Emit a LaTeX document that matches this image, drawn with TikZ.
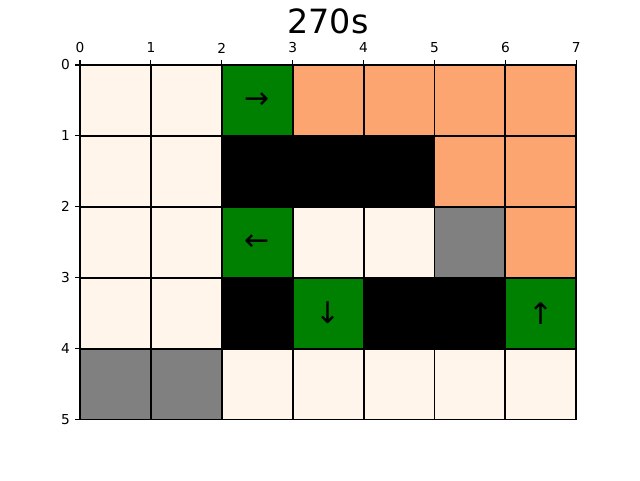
\documentclass[tikz,border=0pt]{standalone}
\usepackage{fontspec}
\setmainfont{DejaVu Sans}
\usepackage{xcolor}
\usetikzlibrary{positioning}
\definecolor{freeclr}{RGB}{255,245,235}
\definecolor{visitclr}{RGB}{252,165,112}
\definecolor{agentclr}{RGB}{0,128,0}
\definecolor{wallclr}{RGB}{0,0,0}
\definecolor{holeclr}{RGB}{128,128,128}
\tikzset{
  cell/.style={rectangle,draw=black,line width=1.1pt,
               minimum size=1.418cm,inner sep=0pt,outer sep=0pt},
  dir/.style={font=\fontsize{17}{17}\selectfont,inner sep=0pt},
  ticklbl/.style={font=\fontsize{7.8}{8}\selectfont,inner sep=0pt},
}
\begin{document}
\begin{tikzpicture}
\useasboundingbox (0,0) rectangle (12.8,9.6);
\node[font=\fontsize{19}{19}\selectfont] (title) at (6.56,9.18) {270s};
\begin{scope}[shift={(1.6,8.3)},x=1.418cm,y=-1.418cm]
% cells, row by row
\foreach \row/\clist in {
    0/{freeclr,freeclr,agentclr,visitclr,visitclr,visitclr,visitclr},
    1/{freeclr,freeclr,wallclr,wallclr,wallclr,visitclr,visitclr},
    2/{freeclr,freeclr,agentclr,freeclr,freeclr,holeclr,visitclr},
    3/{freeclr,freeclr,wallclr,agentclr,wallclr,wallclr,agentclr},
    4/{holeclr,holeclr,freeclr,freeclr,freeclr,freeclr,freeclr}}{
  \foreach \clr [count=\col from 0] in \clist
    \node[cell,fill=\clr] (c-\row-\col) at (\col+0.5,\row+0.5) {};
}
% moves
\node[dir] (m-0-2) at (c-0-2.center) {→};
\node[dir] (m-2-2) at (c-2-2.center) {←};
\node[dir] (m-3-3) at (c-3-3.center) {↓};
\node[dir] (m-3-6) at (c-3-6.center) {↑};
% axes
\foreach \i in {0,...,7}{
  \draw[line width=0.6pt] (\i,0) -- ++(0,-0.069);
  \node[ticklbl] at (\i,-0.24) {\i};
}
\foreach \j in {0,...,5}{
  \draw[line width=0.6pt] (0,\j) -- ++(-0.069,0);
  \node[ticklbl,anchor=east] at (-0.14,\j) {\j};
}
\end{scope}
\end{tikzpicture}
\end{document}
